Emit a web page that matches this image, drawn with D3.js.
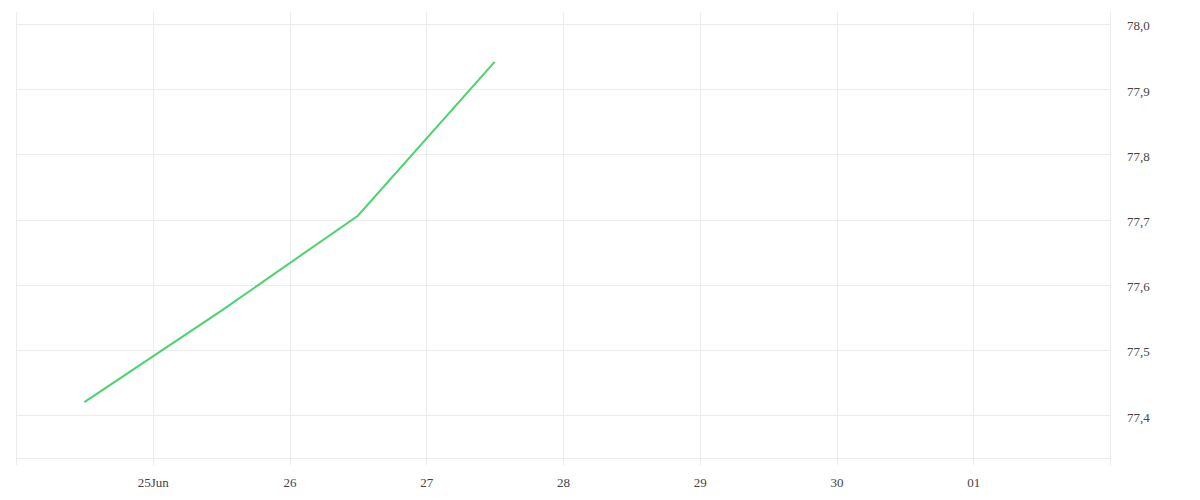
<!DOCTYPE html>
<html>
<head>
<meta charset="utf-8">
<script src="https://cdn.jsdelivr.net/npm/d3@7"></script>
<style>
  body { margin: 0; background: #fff; }
  .tick text { font-family: "Liberation Serif", "DejaVu Serif", serif; font-size: 13px; fill: #444; }
</style>
</head>
<body>
<div id="chart"></div>
<script>
// data (one point per day, at midday)
const dates = ["2023-06-24T12:00", "2023-06-25T12:00", "2023-06-26T12:00", "2023-06-27T12:00"]
const values = [77.42, 77.56, 77.706, 77.942]
const yTicks = [77.4, 77.5, 77.6, 77.7, 77.8, 77.9, 78.0]
const xStart = "2023-06-24", xEnd = "2023-07-02"

const MARGIN = { LEFT: 16, RIGHT: 90, TOP: 12, BOTTOM: 42 }
const WIDTH = 1200 - MARGIN.LEFT - MARGIN.RIGHT
const HEIGHT = 500 - MARGIN.TOP - MARGIN.BOTTOM

const parse = d3.timeParse("%Y-%m-%dT%H:%M")
const parseDay = d3.timeParse("%Y-%m-%d")
const data = dates.map((d, i) => ({ date: parse(d), value: values[i] }))

const svg = d3.select("#chart").append("svg")
  .attr("width", 1200)
  .attr("height", 500)

const g = svg.append("g")
  .attr("transform", `translate(${MARGIN.LEFT}, ${MARGIN.TOP})`)

const x = d3.scaleTime()
  .domain([parseDay(xStart), parseDay(xEnd)])
  .range([0, WIDTH])

const y = d3.scaleLinear()
  .domain([77.3344, 78.0184])
  .range([HEIGHT, 0])

const locale = d3.formatLocale({ decimal: ",", thousands: ".", grouping: [3], currency: ["", "€"] })
const fmt = locale.format(".1f")

// horizontal grid
g.append("g").selectAll("line")
  .data(yTicks)
  .join("line")
  .attr("x1", 0).attr("x2", WIDTH)
  .attr("y1", d => Math.round(y(d)) + 0.5).attr("y2", d => Math.round(y(d)) + 0.5)
  .attr("stroke", "#ececec")

// vertical grid, one per day incl. both edges
g.append("g").selectAll("line")
  .data(d3.timeDay.range(x.domain()[0], d3.timeDay.offset(x.domain()[1], 1)))
  .join("line")
  .attr("x1", d => Math.round(x(d)) + 0.5).attr("x2", d => Math.round(x(d)) + 0.5)
  .attr("y1", 0).attr("y2", HEIGHT + 7)
  .attr("stroke", "#ececec")

// baseline
g.append("line")
  .attr("x1", 0).attr("x2", WIDTH)
  .attr("y1", HEIGHT + 0.5).attr("y2", HEIGHT + 0.5)
  .attr("stroke", "#ececec")

const xAxisCall = d3.axisBottom(x)
  .tickValues(d3.timeDay.range(d3.timeDay.offset(x.domain()[0], 1), x.domain()[1]))
  .tickSize(0)
  .tickPadding(20)
  .tickFormat((d, i) => i === 0 ? d3.timeFormat("%d%b")(d) : d3.timeFormat("%d")(d))

g.append("g")
  .attr("class", "x axis")
  .attr("transform", `translate(0, ${HEIGHT})`)
  .call(xAxisCall)
  .call(a => a.select(".domain").remove())

const yAxisCall = d3.axisRight(y)
  .tickValues(yTicks)
  .tickSize(0)
  .tickPadding(17)
  .tickFormat(fmt)

g.append("g")
  .attr("class", "y axis")
  .attr("transform", `translate(${WIDTH}, 0)`)
  .call(yAxisCall)
  .call(a => a.select(".domain").remove())
  .selectAll("text").attr("dy", "0.45em")

const line = d3.line()
  .x(d => x(d.date))
  .y(d => y(d.value))

g.append("path")
  .datum(data)
  .attr("fill", "none")
  .attr("stroke", "#4cd36d")
  .attr("stroke-width", 2)
  .attr("d", line)
</script>
</body>
</html>
